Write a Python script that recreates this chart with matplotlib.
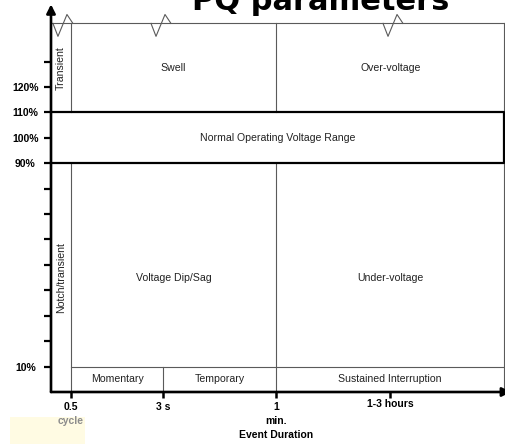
import matplotlib
matplotlib.use('Agg')
import matplotlib.pyplot as plt
from matplotlib.patches import Rectangle

plt.rcParams['font.family'] = ['Liberation Sans', 'DejaVu Sans']

# event duration ticks (layout units along x) and their labels
dur_pos = [0, 0.81, 1.8, 2.8]
dur_main = ['0.5', '3 s', '1', '1-3 hours']
dur_sub = ['cycle', '', 'min.', '']
x_axis = -0.175
x_end = 3.8

# voltage levels in percent
v_ticks = [10, 20, 30, 40, 50, 60, 70, 80, 90, 100, 110, 120, 130]
v_labels = {10: '10%', 90: '90%', 100: '100%', 110: '110%', 120: '120%'}
v_low, v_high = 90, 110
v_interrupt = 10
v_top = 145

# zigzag break marks on the top line
zig_x = [-0.158, 0.702, 2.737]
zig_dx = [0, 0.044, 0.123, 0.175]
zig_dy = [0, -5.1, 3.5, 0]

GRAY = '#5a5a5a'

fig = plt.figure(figsize=(5.05, 4.44), dpi=100)
ax = fig.add_axes([51 / 505, 52 / 444, 1 - 51 / 505, 1 - 52 / 444])
ax.set_xlim(x_axis, 3.807)
ax.set_ylim(0, 154.2)
for s in ax.spines.values():
    s.set_visible(False)

# pale smudge bottom left
ax.add_patch(Rectangle((-0.535, -23.5), 0.66, 13.8, facecolor='#fffbe3',
                       edgecolor='none', clip_on=False, zorder=0))

# thin grid of the regions
kw = dict(color=GRAY, lw=0.8, clip_on=False, zorder=2)
ax.plot([x_axis, x_end], [v_top, v_top], **kw)
ax.plot([x_end, x_end], [0, v_top], **kw)
for x in [dur_pos[0], dur_pos[2]]:
    ax.plot([x, x], [v_high, v_top], **kw)
    ax.plot([x, x], [0, v_low], **kw)
ax.plot([dur_pos[1], dur_pos[1]], [0, v_interrupt], **kw)
ax.plot([dur_pos[0], x_end], [v_interrupt, v_interrupt], **kw)

# normal operating range box
ax.plot([x_axis, x_end, x_end, x_axis], [v_high, v_high, v_low, v_low],
        color='black', lw=1.6, clip_on=False, zorder=3)

# zigzags
for zx in zig_x:
    ax.plot([zx + d for d in zig_dx], [v_top + d for d in zig_dy],
            color=GRAY, lw=0.8, clip_on=False, zorder=2)

# axes with arrows
ax.annotate('', xy=(x_axis, 152.5), xytext=(x_axis, 0),
            arrowprops=dict(arrowstyle='-|>', lw=1.9, color='black',
                            mutation_scale=13, shrinkA=0, shrinkB=0),
            annotation_clip=False)
ax.annotate('', xy=(3.86, 0), xytext=(x_axis, 0),
            arrowprops=dict(arrowstyle='-|>', lw=1.9, color='black',
                            mutation_scale=13, shrinkA=0, shrinkB=0),
            annotation_clip=False)

# y ticks
ax.set_yticks(v_ticks)
ax.set_yticklabels([v_labels.get(v, '') for v in v_ticks],
                   fontsize=7.5, fontweight='bold', ha='center')
ax.tick_params(axis='y', length=5, width=1.6, pad=13.5, direction='out')

# x ticks
ax.set_xticks(dur_pos)
ax.set_xticklabels([])
ax.tick_params(axis='x', length=4.5, width=1.8, direction='out')
for x, m, s in zip(dur_pos, dur_main, dur_sub):
    y = -4.8 if m == '1-3 hours' else -5.9
    ax.text(x, y, m, ha='center', va='center', fontsize=7.5, fontweight='bold')
    if s:
        col = '#8c8c8c' if s == 'cycle' else 'black'
        ax.text(x, -11.4, s, ha='center', va='center', fontsize=7.5,
                fontweight='bold', color=col)
ax.text(dur_pos[2], -16.8, 'Event Duration', ha='center', va='center',
        fontsize=7.5, fontweight='bold')

# region labels
tkw = dict(ha='center', va='center', fontsize=7.6, color='#222222')
ax.text((dur_pos[0] + dur_pos[2]) / 2, 127.5, 'Swell', **tkw)
ax.text((dur_pos[2] + x_end) / 2, 127.5, 'Over-voltage', **tkw)
ax.text((x_axis + x_end) / 2, 100, 'Normal Operating Voltage Range', **tkw)
ax.text((dur_pos[0] + dur_pos[2]) / 2, 45, 'Voltage Dip/Sag', **tkw)
ax.text((dur_pos[2] + x_end) / 2, 45, 'Under-voltage', **tkw)
ax.text((dur_pos[0] + dur_pos[1]) / 2, 5, 'Momentary', **tkw)
ax.text((dur_pos[1] + dur_pos[2]) / 2, 5, 'Temporary', **tkw)
ax.text((dur_pos[2] + x_end) / 2, 5, 'Sustained Interruption', **tkw)
ax.text((x_axis + dur_pos[0]) / 2, 127.5, 'Transient', rotation=90, **tkw)
ax.text((x_axis + dur_pos[0]) / 2, 45, 'Notch/transient', rotation=90, **tkw)

# title, cut off by the top edge as in the source image
fig.text(321 / 505, 1 - 10 / 444, 'PQ parameters', ha='center', va='baseline',
         fontsize=22, fontweight='bold', family='DejaVu Sans')

fig.savefig('out.png', dpi=100)
